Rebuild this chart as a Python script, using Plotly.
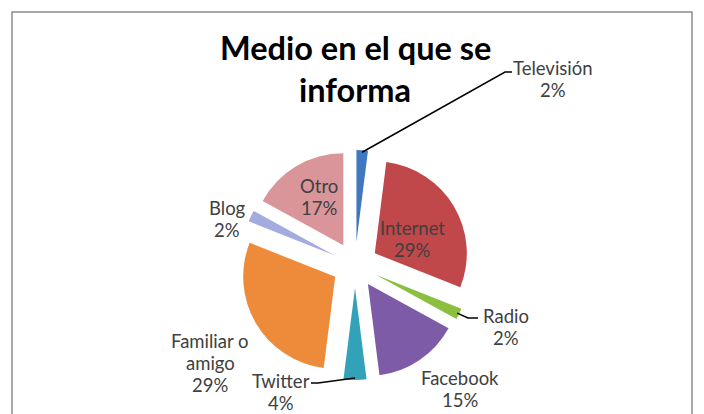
import math
import plotly.graph_objects as go

# ---- data ----
labels = ["Televisión", "Internet", "Radio", "Facebook", "Twitter",
          "Familiar o amigo", "Blog", "Otro"]
values = [2, 29, 2, 15, 4, 29, 2, 17]
label_lines = [["Televisión"], ["Internet"], ["Radio"], ["Facebook"], ["Twitter"],
               ["Familiar o", "amigo"], ["Blog"], ["Otro"]]
colors = ["#3F78C0", "#C0474A", "#8CBE3F", "#7D5BA6", "#31A2B8",
          "#EE8B3A", "#A3ACDF", "#D9959A"]
title_lines = ["Medio en el que se", "informa"]

# ---- layout geometry ----
W, H = 704, 414
cx, cy = 355, 265          # pie centre (px)
box = 230                  # pie box (px)
pull = 0.25
r = box / (2 * (1 + pull))
line_gap = 22

# first-line centre positions (px) for each slice label
label_pos = [(553, 68), (412, 228), (506, 316), (460, 378), (281, 381),
             (210, 341), (227, 208), (319, 186)]

fig = go.Figure(go.Pie(
    labels=labels, values=values, sort=False, direction="clockwise",
    rotation=0, pull=[pull] * len(values),
    marker=dict(colors=colors, line=dict(width=0)),
    textinfo="none", hoverinfo="label+percent", showlegend=False,
    domain=dict(x=[(cx - box / 2) / W, (cx + box / 2) / W],
                y=[1 - (cy + box / 2) / H, 1 - (cy - box / 2) / H]),
))

total = sum(values)
pcts = [round(100 * v / total) for v in values]

def px2paper(x, y):
    return x / W, 1 - y / H

FONT = "Lato, Carlito, sans-serif"
annotations = []
for i, (lines, p) in enumerate(zip(label_lines, pcts)):
    x, y = label_pos[i]
    for k, t in enumerate(lines + [f"{p}%"]):
        px, py = px2paper(x, y + k * line_gap)
        annotations.append(dict(
            x=px, y=py, xref="paper", yref="paper", showarrow=False,
            text=t, font=dict(family=FONT, size=18.5, color="#404040"),
            xanchor="center", yanchor="middle"))

# title
for k, t in enumerate(title_lines):
    px, py = px2paper(355, 48 + k * 41)
    annotations.append(dict(
        x=px, y=py, xref="paper", yref="paper", showarrow=False,
        text=f"<b>{t}</b>",
        font=dict(family=FONT, size=32.5, color="#000000"),
        xanchor="center", yanchor="middle"))

# leader lines from slice tips (computed from data angles)
def slice_tip(idx, extra=0.0):
    start = sum(values[:idx])
    mid = (start + values[idx] / 2) / total * 2 * math.pi
    rr = r * (1 + pull) + extra
    return cx + rr * math.sin(mid), cy - rr * math.cos(mid)

leaders = {0: [(505, 72), (512, 72)],
           2: [(468, 318), (478, 318)],
           4: [(318, 383), (311, 383)]}
shapes = []
for idx, pts in leaders.items():
    tx, ty = slice_tip(idx, -2)
    path_pts = [(tx, ty)] + pts
    d = "M " + " L ".join(f"{px2paper(x, y)[0]:.5f},{px2paper(x, y)[1]:.5f}"
                          for x, y in path_pts)
    shapes.append(dict(type="path", path=d, xref="paper", yref="paper",
                       line=dict(color="#000000", width=1.5)))

# chart border
shapes.append(dict(type="rect", xref="paper", yref="paper",
                   x0=12 / W, x1=692 / W, y0=-0.05, y1=1 - 12 / H,
                   line=dict(color="#8C8C8C", width=1.5)))

fig.update_layout(
    width=W, height=H, margin=dict(l=0, r=0, t=0, b=0),
    paper_bgcolor="white", plot_bgcolor="white",
    annotations=annotations, shapes=shapes,
)

fig.write_html("out.html",
               config={"displayModeBar": False},
               post_script="document.body.style.margin='0';"
                           "document.body.style.overflow='hidden';")
